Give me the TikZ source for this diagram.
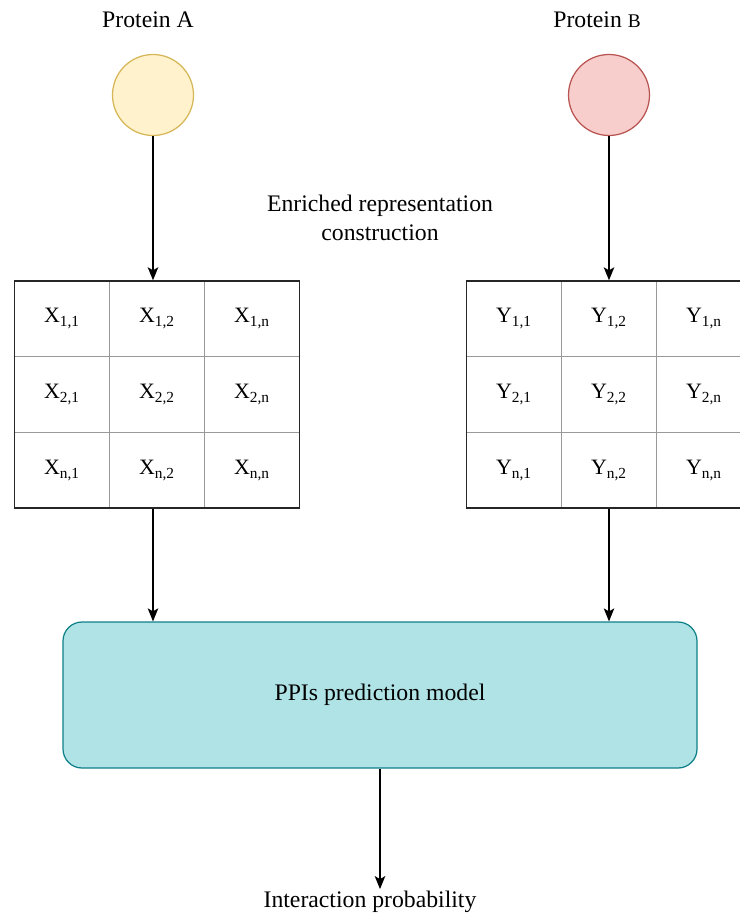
\documentclass[tikz,border=0pt]{standalone}
\usepackage{fontspec}
\setmainfont{Liberation Serif}
\usetikzlibrary{arrows.meta,positioning}
\definecolor{aFill}{HTML}{FFF2CC}
\definecolor{aDraw}{HTML}{D6B656}
\definecolor{bFill}{HTML}{F8CECC}
\definecolor{bDraw}{HTML}{B85450}
\definecolor{mFill}{HTML}{B0E3E6}
\definecolor{mDraw}{HTML}{0E8088}
\definecolor{cellgray}{HTML}{999999}
\begin{document}
\begin{tikzpicture}[x=0.02cm,y=-0.02cm,
  txt/.style={font=\fontsize{13.5}{16.4}\selectfont, inner sep=1pt},
  cell/.style={draw=cellgray, line width=0.6pt, minimum width=95*0.02cm, minimum height=76*0.02cm, inner sep=0pt, font=\fontsize{12.5}{14}\selectfont},
  grid/.style={draw=black!85, line width=0.8pt, minimum width=285*0.02cm, minimum height=227*0.02cm, inner sep=0pt},
  arr/.style={-{Stealth[length=0.26cm,width=0.21cm,inset=0.06cm]}, line width=0.8pt}]
\useasboundingbox (0,0) rectangle (740,916);
% proteins
\node[txt] (pa) at (148,20) {Protein A};
\node[txt] (pb) at (597,20) {Protein {\fontsize{11}{13}\selectfont B}};
\node[circle, draw=aDraw, fill=aFill, line width=0.7pt, minimum size=81*0.02cm] (ca) at (153,95){};
\node[circle, draw=bDraw, fill=bFill, line width=0.7pt, minimum size=81*0.02cm] (cb) at (609,95){};
\node[txt, align=center] (erc) at (380,218) {Enriched representation\\construction};
% matrix X
\node[cell] (x11) at (62,318.5) {X\textsubscript{1,1}};
\node[cell] (x12) at (157,318.5) {X\textsubscript{1,2}};
\node[cell] (x1n) at (252,318.5) {X\textsubscript{1,n}};
\node[cell] (x21) at (62,394.5) {X\textsubscript{2,1}};
\node[cell] (x22) at (157,394.5) {X\textsubscript{2,2}};
\node[cell] (x2n) at (252,394.5) {X\textsubscript{2,n}};
\node[cell] (xn1) at (62,470.5) {X\textsubscript{n,1}};
\node[cell] (xn2) at (157,470.5) {X\textsubscript{n,2}};
\node[cell] (xnn) at (252,470.5) {X\textsubscript{n,n}};
\node[grid] (gx) at (157,394.5){};
% matrix Y
\node[cell] (y11) at (514,318.5) {Y\textsubscript{1,1}};
\node[cell] (y12) at (609,318.5) {Y\textsubscript{1,2}};
\node[cell] (y1n) at (704,318.5) {Y\textsubscript{1,n}};
\node[cell] (y21) at (514,394.5) {Y\textsubscript{2,1}};
\node[cell] (y22) at (609,394.5) {Y\textsubscript{2,2}};
\node[cell] (y2n) at (704,394.5) {Y\textsubscript{2,n}};
\node[cell] (yn1) at (514,470.5) {Y\textsubscript{n,1}};
\node[cell] (yn2) at (609,470.5) {Y\textsubscript{n,2}};
\node[cell] (ynn) at (704,470.5) {Y\textsubscript{n,n}};
\node[grid] (gy) at (609,394.5){};
% model
\node[draw=mDraw, fill=mFill, line width=0.7pt, rounded corners=0.38cm, minimum width=634*0.02cm, minimum height=146*0.02cm, font=\fontsize{13.5}{16.4}\selectfont] (model) at (380,695) {PPIs prediction model};
\node[txt] (ip) at (370,902) {Interaction probability};
\draw[arr] (ca.south) -- (ca.south |- gx.north);
\draw[arr] (cb.south) -- (cb.south |- gy.north);
\draw[arr] (gx.south -| ca) -- (ca |- model.north);
\draw[arr] (gy.south -| cb) -- (cb |- model.north);
\draw[arr] (model.south) -- (model.south |- ip.north);

\end{tikzpicture}
\end{document}
